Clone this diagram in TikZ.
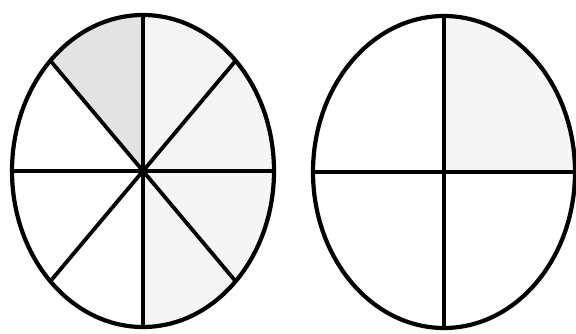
\documentclass[tikz,border=0pt]{standalone}
\usetikzlibrary{calc}
\begin{document}
\begin{tikzpicture}[x=1pt,y=1pt,
  outline/.style={line width=4.2pt,black},
  spoke/.style={line width=3.8pt,black},
  darkshade/.style={fill=gray!22},
  lightshade/.style={fill=gray!8}]
\useasboundingbox (0,0) rectangle (576,333);
% left ellipse
\coordinate (L) at (143,162);
\def\rx{131}\def\ry{156}
\fill[darkshade] (L) -- ++(0,\ry) arc[start angle=90,end angle=135,x radius=\rx,y radius=\ry] -- cycle;
\fill[lightshade] (L) -- ++(0,-\ry) arc[start angle=-90,end angle=90,x radius=\rx,y radius=\ry] -- cycle;
\foreach \t in {0,45,90,135}{
  \draw[spoke] ($(L)+({\rx*cos(\t)},{\ry*sin(\t)})$) -- ($(L)+({\rx*cos(\t+180)},{\ry*sin(\t+180)})$);
}
\draw[outline] (L) ellipse[x radius=\rx,y radius=\ry];
% right ellipse
\coordinate (R) at (444,161);
\fill[lightshade] (R) -- ++(\rx,0) arc[start angle=0,end angle=90,x radius=\rx,y radius=\ry] -- cycle;
\draw[spoke] ($(R)+(0,\ry)$) -- ($(R)+(0,-\ry)$);
\draw[spoke] ($(R)+(\rx,0)$) -- ($(R)+(-\rx,0)$);
\draw[outline] (R) ellipse[x radius=\rx,y radius=\ry];
\end{tikzpicture}
\end{document}
